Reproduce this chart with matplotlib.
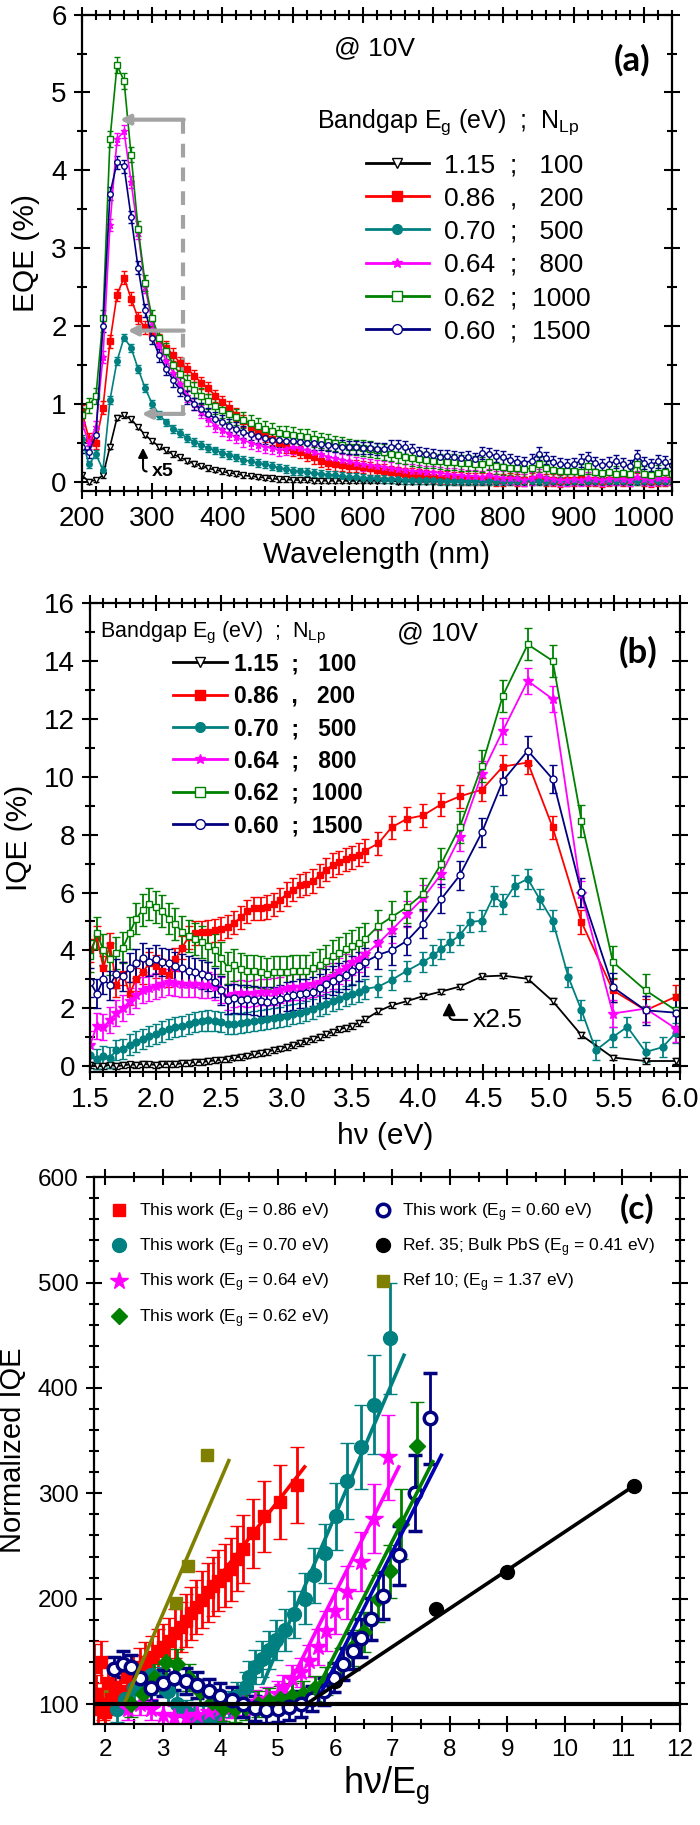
import matplotlib
matplotlib.use('Agg')
import matplotlib.pyplot as plt
from matplotlib.lines import Line2D
from matplotlib.ticker import MultipleLocator, FormatStrFormatter

plt.rcParams['font.family'] = ['Liberation Sans', 'DejaVu Sans']
plt.rcParams['mathtext.fontset'] = 'custom'
plt.rcParams['mathtext.rm'] = 'Liberation Sans'
plt.rcParams['mathtext.it'] = 'Liberation Sans:italic'
plt.rcParams['mathtext.bf'] = 'Liberation Sans:bold'
plt.rcParams['mathtext.default'] = 'regular'

# ---------------- data: panel (a) EQE vs wavelength ----------------
wavelength = list(range(200, 1041, 10))

eqe_115 = [0.08, 0.00, 0.02, 0.08, 0.45, 0.82, 0.85, 0.80, 0.70, 0.60,
           0.52, 0.45, 0.40, 0.35, 0.31, 0.27, 0.23, 0.20, 0.17, 0.15,
           0.13, 0.11, 0.10, 0.08, 0.07, 0.06, 0.05, 0.04, 0.03, 0.03,
           0.02, 0.02, 0.02, 0.01, 0.01, 0.01, 0.01, 0.01, 0.01, 0.01,
           0.01, 0.01, 0.01, 0.01, 0.01, 0.00, 0.00, 0.00, 0.00, 0.00,
           0.00, 0.00, 0.00, 0.00, 0.00, 0.00, 0.00, 0.00, 0.00, 0.00,
           0.00, 0.00, 0.00, 0.00, 0.00, 0.00, 0.00, 0.00, 0.00, 0.00,
           0.00, 0.00, 0.00, 0.00, 0.00, 0.00, 0.00, 0.00, 0.00, 0.00,
           0.00, 0.00, 0.00, 0.00, 0.00]
eqe_086 = [0.90, 0.55, 0.50, 0.95, 1.80, 2.40, 2.62, 2.35, 2.10, 1.98,
           1.90, 1.82, 1.72, 1.63, 1.52, 1.45, 1.36, 1.27, 1.20, 1.10,
           1.02, 0.95, 0.86, 0.78, 0.70, 0.64, 0.59, 0.55, 0.50, 0.45,
           0.41, 0.38, 0.34, 0.31, 0.27, 0.24, 0.22, 0.21, 0.20, 0.20,
           0.19, 0.17, 0.15, 0.14, 0.12, 0.11, 0.10, 0.09, 0.08, 0.07,
           0.06, 0.05, 0.05, 0.04, 0.04, 0.03, 0.03, 0.03, 0.03, 0.02,
           0.02, 0.03, 0.02, 0.02, 0.03, 0.04, 0.02, 0.02, 0.01, 0.02,
           0.02, 0.03, 0.02, 0.02, 0.01, 0.02, 0.03, 0.02, 0.02, 0.03,
           0.02, 0.01, 0.02, 0.02, 0.03]
eqe_070 = [0.55, 0.22, 0.35, 0.15, 1.05, 1.55, 1.85, 1.72, 1.45, 1.20,
           1.00, 0.86, 0.76, 0.68, 0.62, 0.56, 0.51, 0.47, 0.43, 0.40,
           0.37, 0.34, 0.31, 0.28, 0.26, 0.24, 0.22, 0.20, 0.18, 0.16,
           0.14, 0.13, 0.12, 0.11, 0.10, 0.09, 0.08, 0.07, 0.06, 0.06,
           0.05, 0.04, 0.04, 0.03, 0.03, 0.03, 0.02, 0.02, 0.02, 0.02,
           0.02, 0.01, 0.01, 0.01, 0.01, 0.01, 0.01, 0.01, 0.01, 0.01,
           0.01, 0.01, 0.01, 0.01, 0.01, 0.01, 0.01, 0.01, 0.01, 0.01,
           0.01, 0.01, 0.01, 0.01, 0.01, 0.01, 0.01, 0.01, 0.01, 0.01,
           0.01, 0.01, 0.01, 0.01, 0.01]
eqe_064 = [0.75, 0.50, 0.70, 1.60, 3.30, 4.40, 4.50, 3.85, 3.20, 2.50,
           2.05, 1.75, 1.55, 1.40, 1.25, 1.10, 1.00, 0.90, 0.80, 0.72,
           0.66, 0.61, 0.57, 0.53, 0.50, 0.47, 0.45, 0.43, 0.41, 0.42,
           0.44, 0.43, 0.40, 0.38, 0.35, 0.32, 0.30, 0.28, 0.26, 0.24,
           0.22, 0.21, 0.20, 0.19, 0.17, 0.16, 0.15, 0.14, 0.13, 0.12,
           0.12, 0.11, 0.10, 0.09, 0.08, 0.07, 0.07, 0.06, 0.08, 0.06,
           0.05, 0.05, 0.04, 0.02, 0.04, 0.08, 0.05, 0.03, 0.02, 0.02,
           0.03, 0.02, 0.04, 0.03, 0.02, 0.03, 0.04, 0.03, 0.02, 0.06,
           0.03, 0.02, 0.04, 0.03, 0.04]
eqe_062 = [0.85, 0.98, 1.10, 2.10, 4.40, 5.35, 5.15, 4.20, 3.25, 2.55,
           2.10, 1.85, 1.68, 1.50, 1.38, 1.27, 1.18, 1.10, 1.03, 0.97,
           0.92, 0.87, 0.83, 0.79, 0.75, 0.72, 0.68, 0.65, 0.62, 0.61,
           0.60, 0.58, 0.57, 0.55, 0.53, 0.51, 0.49, 0.47, 0.45, 0.44,
           0.43, 0.42, 0.40, 0.38, 0.36, 0.34, 0.32, 0.30, 0.29, 0.28,
           0.27, 0.26, 0.25, 0.25, 0.24, 0.24, 0.23, 0.22, 0.25, 0.20,
           0.19, 0.18, 0.17, 0.16, 0.17, 0.22, 0.17, 0.15, 0.14, 0.13,
           0.13, 0.12, 0.20, 0.12, 0.11, 0.12, 0.10, 0.11, 0.10, 0.22,
           0.10, 0.09, 0.11, 0.12, 0.10]
eqe_060 = [0.45, 0.38, 0.60, 2.00, 3.70, 4.10, 4.05, 3.40, 2.75, 2.20,
           1.85, 1.62, 1.45, 1.30, 1.18, 1.08, 1.00, 0.93, 0.87, 0.81,
           0.77, 0.72, 0.68, 0.64, 0.61, 0.58, 0.56, 0.54, 0.53, 0.52,
           0.52, 0.51, 0.50, 0.49, 0.48, 0.47, 0.46, 0.45, 0.44, 0.44,
           0.43, 0.43, 0.42, 0.42, 0.45, 0.46, 0.44, 0.40, 0.37, 0.35,
           0.34, 0.32, 0.33, 0.31, 0.30, 0.31, 0.29, 0.37, 0.35, 0.33,
           0.31, 0.28, 0.25, 0.24, 0.27, 0.36, 0.30, 0.25, 0.22, 0.21,
           0.22, 0.27, 0.30, 0.24, 0.21, 0.23, 0.26, 0.22, 0.20, 0.33,
           0.24, 0.21, 0.26, 0.25, 0.21]
eqe_err = [0.03, 0.08, 0.05, 0.08, 0.10, 0.08]

# ---------------- data: panel (b) IQE vs photon energy ----------------
hv_left = [1.50, 1.55, 1.60, 1.65, 1.70, 1.75, 1.80, 1.85, 1.90, 1.95,
           2.00, 2.05, 2.10, 2.15, 2.20, 2.25, 2.30, 2.35, 2.40, 2.45,
           2.50, 2.55, 2.60, 2.65, 2.70, 2.75, 2.80, 2.85, 2.90, 2.95,
           3.00, 3.05, 3.10, 3.15, 3.20, 3.25, 3.30, 3.35, 3.40, 3.45,
           3.50, 3.55, 3.60]
hv_right = [3.70, 3.80, 3.92, 4.04, 4.18, 4.32, 4.49, 4.65, 4.84, 5.03,
            5.25, 5.49, 5.74, 5.97]
hv_teal_right = [3.70, 3.80, 3.92, 4.04, 4.12, 4.18, 4.25, 4.32, 4.40, 4.49,
                 4.58, 4.65, 4.74, 4.84, 4.93, 5.03, 5.15, 5.25, 5.36, 5.49,
                 5.60, 5.74, 5.87, 5.97]

iqe_115 = [0.05, 0.00, 0.02, 0.05, 0.00, 0.03, 0.06, 0.05, 0.08, 0.06,
           0.05, 0.07, 0.08, 0.07, 0.10, 0.12, 0.14, 0.15, 0.17, 0.20,
           0.23, 0.26, 0.30, 0.33, 0.37, 0.41, 0.46, 0.50, 0.56, 0.61,
           0.67, 0.72, 0.80, 0.86, 0.95, 1.02, 1.10, 1.18, 1.27, 1.33,
           1.40, 1.50, 1.62,
           1.90, 2.10, 2.25, 2.42, 2.58, 2.75, 3.10, 3.13, 3.02, 2.25,
           1.07, 0.30, 0.18, 0.18]
iqe_086 = [4.00, 4.45, 3.40, 4.20, 2.80, 3.20, 2.50, 3.00, 3.25, 3.55,
           3.45, 3.30, 3.15, 3.70, 4.10, 4.45, 4.60, 4.62, 4.65, 4.70,
           4.75, 4.82, 4.95, 5.15, 5.35, 5.45, 5.45, 5.50, 5.60, 5.75,
           5.95, 6.10, 6.25, 6.30, 6.40, 6.60, 6.78, 6.95, 7.05, 7.15,
           7.22, 7.30, 7.45,
           7.70, 8.25, 8.55, 8.66, 9.05, 9.32, 9.55, 10.35, 10.49, 8.25,
           4.98, 2.62, 1.93, 2.40]
iqe_070 = [0.40, 0.25, 0.35, 0.30, 0.55, 0.60, 0.75, 0.85, 0.95, 1.05,
           1.12, 1.20, 1.28, 1.35, 1.40, 1.45, 1.52, 1.56, 1.58, 1.57,
           1.52, 1.45, 1.45, 1.50, 1.52, 1.57, 1.60, 1.63, 1.66, 1.70,
           1.75, 1.80, 1.85, 1.90, 1.98, 2.07, 2.15, 2.25, 2.33, 2.42,
           2.50, 2.58, 2.67,
           2.75, 2.98, 3.30, 3.60, 3.83, 4.06, 4.29, 4.52, 4.98, 5.03,
           5.89, 5.61, 6.24, 6.47, 5.78, 5.03, 3.08, 1.93, 0.55, 1.01,
           1.36, 0.49, 0.66, 1.15]
iqe_064 = [0.75, 1.40, 1.35, 1.60, 1.85, 2.00, 2.25, 2.45, 2.62, 2.70,
           2.78, 2.85, 2.90, 2.88, 2.85, 2.85, 2.83, 2.82, 2.80, 2.72,
           2.62, 2.40, 2.50, 2.52, 2.50, 2.52, 2.55, 2.55, 2.58, 2.62,
           2.70, 2.72, 2.75, 2.80, 2.85, 2.92, 3.00, 3.12, 3.30, 3.42,
           3.60, 3.72, 3.88,
           4.25, 4.70, 5.25, 5.80, 6.64, 7.90, 10.10, 11.59, 13.31, 12.68,
           5.95, 1.82, 1.99, 1.30]
iqe_062 = [3.80, 4.60, 4.00, 3.70, 3.90, 4.10, 4.60, 5.10, 5.40, 5.60,
           5.50, 5.35, 5.10, 4.90, 4.65, 4.50, 4.40, 4.30, 4.15, 4.00,
           3.75, 3.40, 3.50, 3.35, 3.30, 3.28, 3.25, 3.20, 3.25, 3.25,
           3.25, 3.28, 3.30, 3.30, 3.40, 3.50, 3.65, 3.80, 3.90, 4.05,
           4.15, 4.25, 4.40,
           4.85, 5.15, 5.50, 5.95, 7.00, 8.25, 10.38, 12.80, 14.57, 14.00,
           8.48, 3.60, 2.62, 1.93]
iqe_060 = [2.90, 2.50, 3.00, 2.80, 3.20, 3.10, 3.40, 3.55, 3.75, 3.60,
           3.70, 3.60, 3.55, 3.45, 3.38, 3.30, 3.25, 3.18, 3.10, 2.90,
           2.62, 2.30, 2.35, 2.30, 2.32, 2.28, 2.25, 2.22, 2.25, 2.32,
           2.40, 2.45, 2.50, 2.52, 2.58, 2.70, 2.85, 2.95, 3.05, 3.15,
           3.30, 3.45, 3.60,
           3.85, 4.00, 4.34, 4.92, 5.78, 6.59, 8.08, 9.86, 10.90, 9.92,
           6.01, 2.73, 1.93, 1.85]
iqe_err = [0.10, 0.40, 0.35, 0.45, 0.55, 0.50]

# ---------------- data: panel (c) normalized IQE vs hv/Eg ----------------
x_086 = [1.80, 1.84, 1.88, 1.92, 1.96, 2.00, 2.05, 2.10, 2.17, 2.25,
         2.37, 2.48, 2.60, 2.70, 2.81, 2.91, 3.01, 3.11, 3.21, 3.31,
         3.41, 3.50, 3.58, 3.69, 3.79, 3.88, 3.96, 4.08, 4.19, 4.30,
         4.40, 4.57, 4.77, 5.04, 5.33]
y_086 = [135, 110, 95, 140, 100, 92, 120, 105, 116, 112,
         126, 130, 135, 140, 145, 150, 154, 160, 167, 173,
         179, 186, 192, 199, 206, 212, 217, 222, 228, 238,
         247, 262, 278, 292, 308]
e_086 = [22, 18, 15, 20, 15, 12, 15, 15, 15, 15,
         16, 17, 18, 19, 20, 21, 22, 22, 23, 24,
         25, 25, 26, 27, 28, 28, 29, 30, 30, 31,
         32, 33, 34, 35, 36]

x_070 = [2.20, 2.35, 2.50, 2.65, 2.80, 2.95, 3.10, 3.25, 3.40, 3.55,
         3.70, 3.85, 4.00, 4.15, 4.30, 4.45, 4.50, 4.61, 4.73, 4.85,
         4.97, 5.12, 5.28, 5.47, 5.63, 5.82, 6.02, 6.21, 6.45, 6.68, 6.96]
y_070 = [95, 105, 115, 122, 128, 122, 112, 100, 92, 88,
         86, 90, 95, 100, 108, 116, 126, 135, 143, 151,
         161, 170, 185, 200, 222, 243, 278, 312, 344, 384, 447]
e_070 = [12, 12, 12, 13, 13, 13, 12, 12, 12, 12,
         12, 12, 12, 12, 13, 14, 15, 16, 17, 18,
         19, 20, 22, 24, 26, 28, 32, 36, 40, 47, 53]

x_064 = [2.40, 2.60, 2.80, 3.00, 3.20, 3.40, 3.60, 3.80, 4.00, 4.20,
         4.40, 4.60, 4.80, 5.00, 5.10, 5.25, 5.40, 5.55, 5.70, 5.84,
         6.00, 6.20, 6.45, 6.68, 6.92]
y_064 = [95, 100, 95, 90, 88, 88, 90, 92, 95, 97,
         100, 102, 105, 110, 116, 124, 130, 141, 154, 169,
         188, 206, 235, 276, 334]
e_064 = [10, 10, 10, 10, 10, 10, 10, 10, 10, 10,
         10, 11, 11, 12, 12, 13, 14, 15, 17, 19,
         22, 25, 28, 33, 40]

x_062 = [2.45, 2.65, 2.85, 3.05, 3.25, 3.45, 3.65, 3.85, 4.05, 4.25,
         4.45, 4.65, 4.85, 5.05, 5.25, 5.45, 5.65, 5.85, 6.10, 6.30,
         6.50, 6.75, 6.95, 7.15, 7.42]
y_062 = [100, 110, 125, 140, 138, 125, 112, 102, 96, 95,
         97, 100, 103, 105, 108, 110, 115, 122, 138, 153,
         168, 200, 226, 271, 345]
e_062 = [12, 12, 13, 14, 14, 13, 12, 12, 12, 12,
         12, 12, 12, 12, 12, 12, 12, 13, 15, 17,
         19, 22, 25, 33, 42]

x_060 = [2.15, 2.30, 2.45, 2.60, 2.80, 3.00, 3.20, 3.40, 3.60, 3.80,
         4.00, 4.20, 4.40, 4.60, 4.80, 5.00, 5.20, 5.40, 5.60, 5.80,
         5.98, 6.14, 6.31, 6.45, 6.63, 6.83, 7.12, 7.39, 7.66]
y_060 = [133, 138, 135, 125, 115, 120, 125, 122, 118, 112,
         108, 104, 100, 96, 94, 95, 97, 100, 105, 112,
         125, 138, 150, 163, 181, 203, 241, 300, 371]
e_060 = [12, 12, 12, 12, 12, 12, 12, 12, 12, 12,
         12, 12, 12, 12, 12, 12, 12, 12, 12, 13,
         14, 15, 17, 18, 20, 22, 28, 36, 43]

x_ref35 = [6.00, 7.75, 9.00, 11.20]
y_ref35 = [122, 190, 225, 307]
x_ref10 = [1.98, 2.09, 3.23, 3.44, 3.77]
y_ref10 = [99, 110, 196, 231, 336]

# linear fits: (x start, x end, y start, y end)
fit_ref10 = (2.35, 4.15, 103, 331)
fit_086 = (3.80, 5.47, 208, 325)
fit_070 = (4.75, 7.20, 120, 431)
fit_064 = (5.15, 7.11, 113, 325)
fit_062 = (5.65, 7.70, 110, 330)
fit_060 = (5.75, 7.85, 110, 336)
fit_ref35 = (5.50, 11.20, 100, 307)

bandgaps = ['1.15', '0.86', '0.70', '0.64', '0.62', '0.60']
n_lp = ['100', '200', '500', '800', '1000', '1500']
seps = [';', ',', ';', ';', ';', ';']

colors = ['black', '#ff0000', '#008080', '#ff00ff', '#008000', '#000080']
markers = ['v', 's', 'o', '*', 's', 'o']
faces = ['white', '#ff0000', '#008080', '#ff00ff', 'white', 'white']

labels = []
for eg, s, n in zip(bandgaps, seps, n_lp):
    pad = '   ' if len(n) == 3 else '  '
    labels.append(f'{eg}  {s}{pad}{n}')


def style_axes(ax, size):
    for sp in ax.spines.values():
        sp.set_linewidth(1.6)
    ax.tick_params(which='both', direction='inout', top=True, right=True,
                   width=1.5, labelsize=size, pad=5)
    ax.tick_params(which='major', length=12)
    ax.tick_params(which='minor', length=7)


fig = plt.figure(figsize=(7, 18.25), dpi=100)
ax_a = fig.add_axes([0.117, 0.731, 0.843, 0.261])
ax_b = fig.add_axes([0.129, 0.4126, 0.842, 0.257])
ax_c = fig.add_axes([0.134, 0.0553, 0.837, 0.2997])

# ---------------- panel (a) ----------------
eqe_series = [eqe_115, eqe_086, eqe_070, eqe_064, eqe_062, eqe_060]
for y, err, c, m, fc in zip(eqe_series, eqe_err, colors, markers, faces):
    ax_a.errorbar(wavelength, y, yerr=err, color=c, marker=m, mfc=fc, mec=c,
                  ms=5 if m == '*' else 4, lw=1.2, elinewidth=1, capsize=2)

gray = '#a3a3a3'
ax_a.plot([344, 344], [4.65, 0.87], color=gray, lw=3, ls=(0, (3.3, 2.4)))
for y_arr, x_tip in [(4.65, 254), (1.94, 265), (0.87, 285)]:
    ax_a.annotate('', xy=(x_tip, y_arr), xytext=(345, y_arr),
                  arrowprops=dict(arrowstyle='-|>', color=gray, lw=3,
                                  mutation_scale=14, shrinkA=0, shrinkB=0))
ax_a.annotate('x5', xy=(287, 0.47), xytext=(300, 0.13), fontsize=14,
              fontweight='bold', ha='left', va='center',
              arrowprops=dict(arrowstyle='-|>', color='black', lw=1.5,
                              connectionstyle='angle,angleA=0,angleB=90,rad=4'))

handles = [Line2D([], [], color=c, marker=m, mfc=fc, mec=c, ms=7, lw=2)
           for c, m, fc in zip(colors, markers, faces)]
ax_a.legend(handles, labels, loc='upper left', bbox_to_anchor=(0.481, 0.709),
            frameon=False, fontsize=19, handlelength=2.4, handletextpad=0.55,
            labelspacing=0.35, borderpad=0, borderaxespad=0, numpoints=1)
ax_a.text(0.398, 0.775, 'Bandgap E$_g$ (eV)  ;  N$_{Lp}$', transform=ax_a.transAxes,
          fontsize=18, va='center')
ax_a.text(0.427, 0.93, '@ 10V', transform=ax_a.transAxes, fontsize=19, va='center')
ax_a.text(0.932, 0.905, '(a)', transform=ax_a.transAxes, fontsize=25,
          fontweight='bold', ha='center', va='center', family=['Lato', 'DejaVu Sans'])

ax_a.set_xlim(200, 1040)
ax_a.set_ylim(-0.12, 6)
ax_a.xaxis.set_major_locator(MultipleLocator(100))
ax_a.xaxis.set_minor_locator(MultipleLocator(20))
ax_a.yaxis.set_major_locator(MultipleLocator(1))
ax_a.yaxis.set_minor_locator(MultipleLocator(0.5))
style_axes(ax_a, 20)
ax_a.set_xlabel('Wavelength (nm)', fontsize=21.5, labelpad=6)
ax_a.set_ylabel('EQE (%)', fontsize=21.5, labelpad=8)

# ---------------- panel (b) ----------------
hv_b = hv_left + hv_right
hv_teal = hv_left + hv_teal_right
iqe_series = [iqe_115, iqe_086, iqe_070, iqe_064, iqe_062, iqe_060]
for i, (y, err, c, m, fc) in enumerate(zip(iqe_series, iqe_err, colors, markers, faces)):
    xs = hv_teal if i == 2 else hv_b
    ax_b.errorbar(xs, y, yerr=err, color=c, marker=m, mfc=fc, mec=c,
                  ms=7 if m == '*' else 5, lw=1.3, elinewidth=1.3, capsize=3)

ax_b.annotate('x2.5', xy=(4.24, 2.3), xytext=(4.42, 1.6), fontsize=19,
              ha='left', va='center',
              arrowprops=dict(arrowstyle='-|>', color='black', lw=1.5,
                              connectionstyle='angle,angleA=0,angleB=90,rad=5'))

handles_b = [Line2D([], [], color=c, marker=m, mfc=fc, mec=c, ms=7, lw=2)
             for c, m, fc in zip(colors, markers, faces)]
ax_b.legend(handles_b, labels, loc='upper left', bbox_to_anchor=(0.141, 0.895),
            frameon=False, prop={'size': 16.5, 'weight': 'bold'},
            handlelength=2.35, handletextpad=0.3, labelspacing=0.41,
            borderpad=0, borderaxespad=0, numpoints=1)
ax_b.text(0.017, 0.936, 'Bandgap E$_g$ (eV)  ;  N$_{Lp}$', transform=ax_b.transAxes,
          fontsize=15.5, va='center')
ax_b.text(0.52, 0.936, '@ 10V', transform=ax_b.transAxes, fontsize=19, va='center')
ax_b.text(0.93, 0.895, '(b)', transform=ax_b.transAxes, fontsize=25,
          fontweight='bold', ha='center', va='center', family=['Lato', 'DejaVu Sans'])

ax_b.set_xlim(1.5, 6.0)
ax_b.set_ylim(-0.2, 16)
ax_b.xaxis.set_major_locator(MultipleLocator(0.5))
ax_b.xaxis.set_minor_locator(MultipleLocator(0.1))
ax_b.xaxis.set_major_formatter(FormatStrFormatter('%.1f'))
ax_b.yaxis.set_major_locator(MultipleLocator(2))
ax_b.yaxis.set_minor_locator(MultipleLocator(1))
style_axes(ax_b, 20)
ax_b.set_xlabel('h\u03bd (eV)', fontsize=21.5, labelpad=6)
ax_b.set_ylabel('IQE (%)', fontsize=21.5, labelpad=8)

# ---------------- panel (c) ----------------
c_series = [
    (x_086, y_086, e_086, '#ff0000', 's', '#ff0000', 9, 'This work (E$_g$ = 0.86 eV)'),
    (x_070, y_070, e_070, '#008080', 'o', '#008080', 10, 'This work (E$_g$ = 0.70 eV)'),
    (x_064, y_064, e_064, '#ff00ff', '*', '#ff00ff', 13, 'This work (E$_g$ = 0.64 eV)'),
    (x_062, y_062, e_062, '#008000', 'D', '#008000', 8, 'This work (E$_g$ = 0.62 eV)'),
    (x_060, y_060, e_060, '#000080', 'o', 'white', 9, 'This work (E$_g$ = 0.60 eV)'),
]
handles_c = []
for xs, ys, es, c, m, fc, ms, lab in c_series:
    ax_c.errorbar(xs, ys, yerr=es, ls='none', color=c, marker=m, mfc=fc, mec=c,
                  ms=ms, mew=2.5 if fc == 'white' else 1, elinewidth=2,
                  capsize=5, capthick=2)
    handles_c.append((Line2D([], [], ls='none', marker=m, color=c, mfc=fc, mec=c,
                             ms=ms, mew=2.5 if fc == 'white' else 1), lab))

ax_c.plot(x_ref35, y_ref35, ls='none', marker='o', color='black', ms=10)
ax_c.plot(x_ref10, y_ref10, ls='none', marker='s', color='#808000', ms=9)
handles_c.append((Line2D([], [], ls='none', marker='o', color='black', ms=10),
                  'Ref. 35; Bulk PbS (E$_g$ = 0.41 eV)'))
handles_c.append((Line2D([], [], ls='none', marker='s', color='#808000', ms=9),
                  'Ref 10; (E$_g$ = 1.37 eV)'))

fit_colors = ['#808000', '#ff0000', '#008080', '#ff00ff', '#008000', '#0000b0', 'black']
fits = [fit_ref10, fit_086, fit_070, fit_064, fit_062, fit_060, fit_ref35]
for (x0, x1, y0, y1), c in zip(fits, fit_colors):
    ax_c.plot([x0, x1], [y0, y1], color=c, lw=2.6, zorder=5)
ax_c.axhline(100, color='black', lw=3, zorder=6)

ax_c.legend([h for h, _ in handles_c], [l for _, l in handles_c], ncol=2,
            loc='upper left', bbox_to_anchor=(0.029, 0.956), frameon=False,
            fontsize=12.5, handlelength=1.0, handletextpad=0.6,
            labelspacing=0.73, columnspacing=2.6, borderpad=0, borderaxespad=0)
ax_c.text(0.928, 0.943, '(c)', transform=ax_c.transAxes, fontsize=24,
          fontweight='bold', ha='center', va='center', family=['Lato', 'DejaVu Sans'])

ax_c.set_xlim(1.8, 12)
ax_c.set_ylim(81, 600)
ax_c.xaxis.set_major_locator(MultipleLocator(1))
ax_c.xaxis.set_minor_locator(MultipleLocator(0.5))
ax_c.yaxis.set_major_locator(MultipleLocator(100))
ax_c.yaxis.set_minor_locator(MultipleLocator(20))
style_axes(ax_c, 17.5)
ax_c.set_xlabel('h\u03bd/E$_g$', fontsize=26, labelpad=2)
ax_c.set_ylabel('Normalized IQE', fontsize=21, labelpad=8)

fig.savefig('out.png', dpi=100)
